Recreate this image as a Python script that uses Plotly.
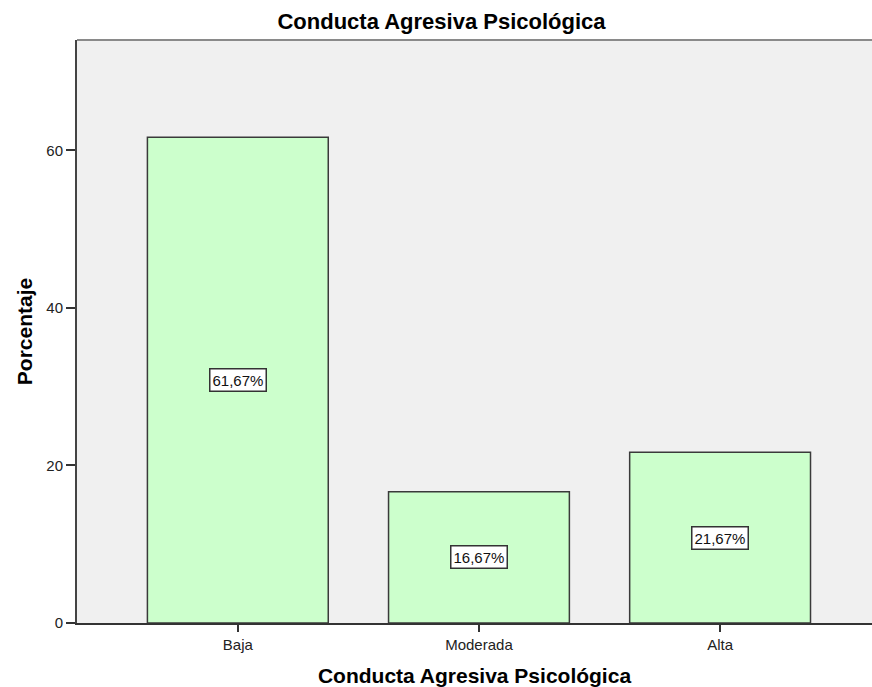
import plotly.graph_objects as go

categories = ["Baja", "Moderada", "Alta"]
percentages = [61.67, 16.67, 21.67]
labels = ["61,67%", "16,67%", "21,67%"]
y_ticks = [0, 20, 40, 60]

font_family = "Liberation Sans, Arial, sans-serif"

fig = go.Figure()
fig.add_trace(go.Bar(
    x=categories,
    y=percentages,
    width=0.75,
    marker=dict(color="#ccffcc", line=dict(color="#3a3a3a", width=1.5)),
    hoverinfo="skip",
))

for c, v, t in zip(categories, percentages, labels):
    fig.add_annotation(
        x=c, y=v / 2, text=t, showarrow=False,
        font=dict(family=font_family, size=15, color="#111111"),
        bgcolor="white", bordercolor="#333333", borderwidth=1.5, borderpad=2,
    )

fig.update_layout(
    width=872, height=687,
    margin=dict(l=77, r=0, t=40, b=64),
    paper_bgcolor="white",
    plot_bgcolor="#f0f0f0",
    showlegend=False,
    title=dict(text="<b>Conducta Agresiva Psicológica</b>", x=(273 + 610) / 2 / 872,
               xanchor="center", y=1 - 21 / 687, yanchor="middle",
               font=dict(family=font_family, size=22, color="#000000")),
    xaxis=dict(
        range=[-0.667, 2.63],
        showline=True, linecolor="#333333", linewidth=2,
        ticks="outside", ticklen=7, tickcolor="#333333", tickwidth=1.5,
        tickfont=dict(family=font_family, size=15, color="#222222"),
        title=dict(text="<b>Conducta Agresiva Psicológica</b>",
                   font=dict(family=font_family, size=21, color="#000000"),
                   standoff=16),
        showgrid=False, zeroline=False,
    ),
    yaxis=dict(
        range=[0, 74],
        tickvals=y_ticks,
        showline=True, linecolor="#444444", linewidth=2,
        ticks="outside", ticklen=9, tickcolor="#333333", tickwidth=1.5,
        tickfont=dict(family=font_family, size=15, color="#222222"),
        title=dict(text="<b>Porcentaje</b>",
                   font=dict(family=font_family, size=21, color="#000000"),
                   standoff=8),
        showgrid=False, zeroline=False,
    ),
)

fig.add_shape(type="line", xref="paper", yref="paper", x0=0, x1=1, y0=1, y1=1,
              line=dict(color="#8a8a8a", width=2))

fig.write_html("out.html", config={"displayModeBar": False},
               post_script="document.body.style.margin='0';document.body.style.overflow='hidden';")
